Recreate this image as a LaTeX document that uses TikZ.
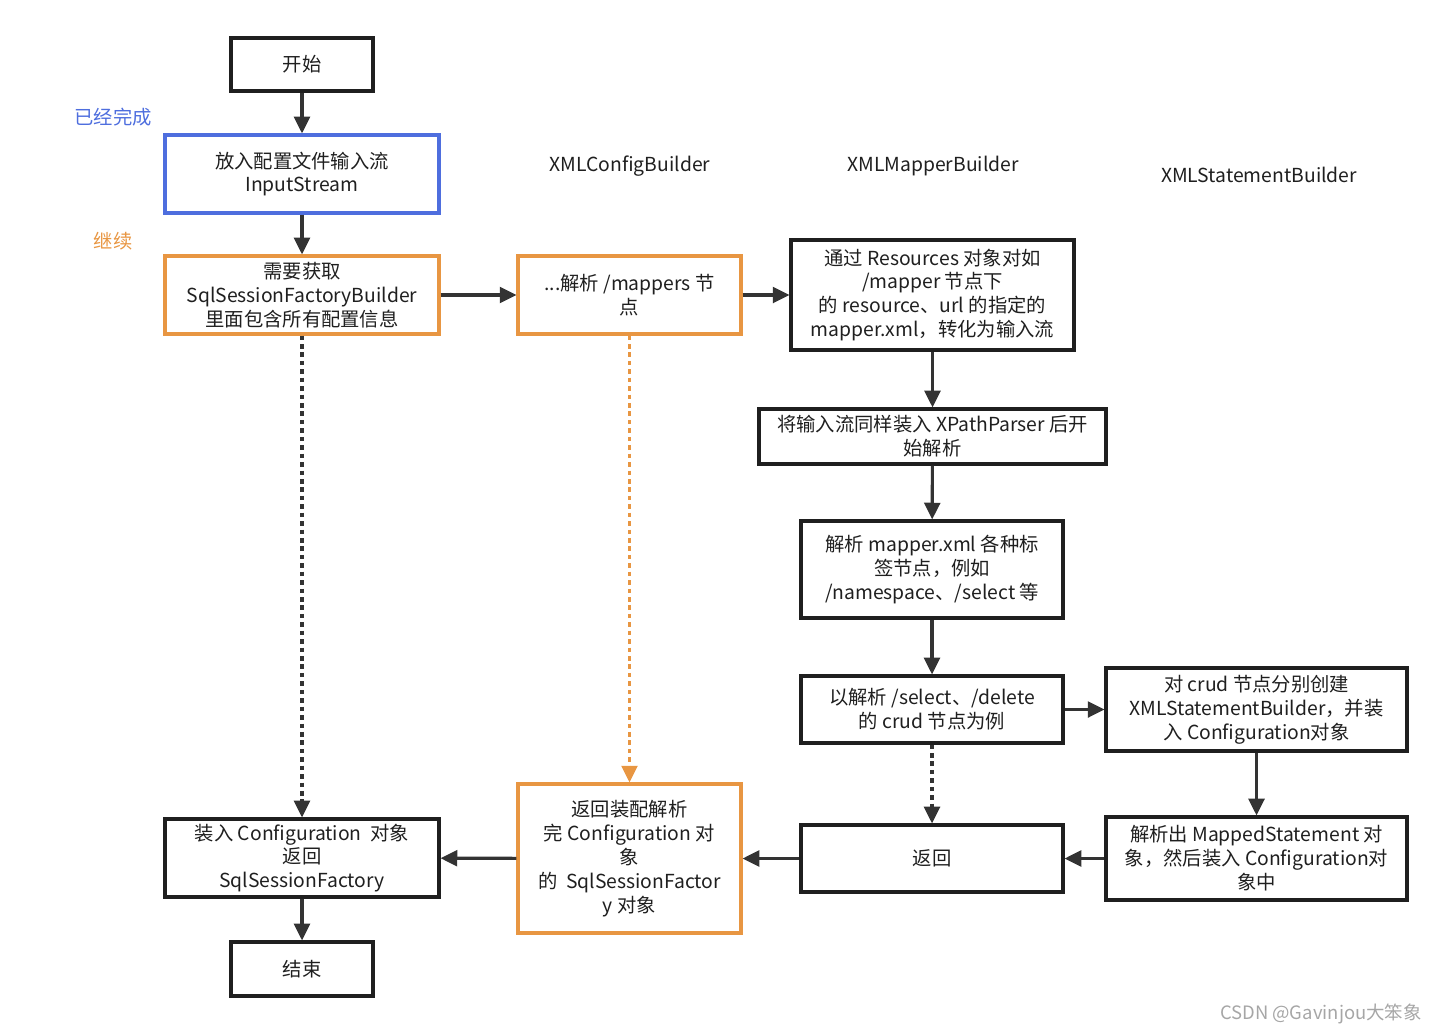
\documentclass[tikz,border=0pt]{standalone}
\usepackage{fontspec}
\setmainfont{Noto Sans CJK SC}
\usetikzlibrary{arrows.meta, positioning}

\definecolor{doneblue}{RGB}{78,110,222}
\definecolor{goorange}{RGB}{232,150,66}
\definecolor{inkgray}{RGB}{51,51,51}

\tikzset{
  box/.style={draw=black!88, line width=1.8pt, align=center, inner sep=2pt,
    text=black!88, font=\fontsize{11}{13.6}\selectfont},
  bluebox/.style={box, draw=doneblue},
  orangebox/.style={box, draw=goorange},
  flow/.style={draw=inkgray, line width=1.8pt, -{Triangle[length=9.5pt, width=9pt]}},
  dots/.style={flow, dash pattern=on 2.6pt off 2.2pt},
  orangedots/.style={dots, draw=goorange, -{Triangle[length=9.5pt, width=9pt, fill=goorange]}},
  lbl/.style={font=\fontsize{11}{13.6}\selectfont, text=black!88},
}

\begin{document}
\begin{tikzpicture}[x=0.02cm, y=-0.02cm]
\useasboundingbox (0,0) rectangle (1443,1034);

% column headings and side notes
\node[lbl, text=doneblue] (done) at (113,117) {已经完成};
\node[lbl, text=goorange] (cont) at (113,241) {继续};
\node[lbl] (hcfg) at (630,166) {XMLConfigBuilder};
\node[lbl] (hmap) at (933,166) {XMLMapperBuilder};
\node[lbl] (hstm) at (1259,175) {XMLStatementBuilder};

% left column
\node[box, minimum width=2.84cm, minimum height=1.06cm] (start) at (302,64.5) {开始};
\node[bluebox, minimum width=5.48cm, minimum height=1.56cm] (input) at (302,174) {放入配置文件输入流\\InputStream};
\node[orangebox, minimum width=5.48cm, minimum height=1.56cm] (sqlb) at (302,295) {需要获取\\SqlSessionFactoryBuilder\\里面包含所有配置信息};
\node[box, minimum width=5.48cm, minimum height=1.56cm] (loadcfg) at (302,858) {装入 Configuration\ \ 对象\\返回\\SqlSessionFactory};
\node[box, minimum width=2.84cm, minimum height=1.08cm] (end) at (302,969) {结束};

% XMLConfigBuilder column
\node[orangebox, minimum width=4.46cm, minimum height=1.56cm] (mappers) at (629.5,295) {...解析 /mappers 节\\点};
\node[orangebox, minimum width=4.46cm, minimum height=2.98cm] (retcfg) at (629.5,858.5) {返回装配解析\\完 Configuration 对\\象\\的\ \ SqlSessionFactor\\y 对象};

% XMLMapperBuilder column
\node[box, minimum width=5.66cm, minimum height=2.2cm] (res) at (932.5,295) {通过 Resources 对象对如\\/mapper 节点下\\的 resource、url 的指定的\\mapper.xml，转化为输入流};
\node[box, minimum width=6.94cm, minimum height=1.1cm] (xpath) at (932.5,436.5) {将输入流同样装入 XPathParser 后开\\始解析};
\node[box, minimum width=5.24cm, minimum height=1.94cm] (parsexml) at (932,569.5) {解析 mapper.xml 各种标\\签节点，例如\\/namespace、/select 等};
\node[box, minimum width=5.24cm, minimum height=1.34cm] (crud) at (932,709.5) {以解析 /select、/delete\\的 crud 节点为例};
\node[box, minimum width=5.24cm, minimum height=1.34cm] (ret) at (932,858.5) {返回};

% XMLStatementBuilder column
\node[box, minimum width=6.02cm, minimum height=1.66cm] (stmt) at (1256.5,709.5) {对 crud 节点分别创建\\XMLStatementBuilder，并装\\入 Configuration对象};
\node[box, minimum width=6.02cm, minimum height=1.66cm] (mapped) at (1256.5,858.5) {解析出 MappedStatement 对\\象，然后装入 Configuration对\\象中};

% connectors
\draw[flow] (start) -- (input);
\draw[flow] (input) -- (sqlb);
\draw[flow] (sqlb) -- (mappers);
\draw[flow] (mappers) -- (res);
\draw[flow] (res) -- (xpath);
\draw[flow] (xpath) -- (parsexml);
\draw[flow] (parsexml) -- (crud);
\draw[flow] (crud) -- (stmt);
\draw[flow] (stmt) -- (mapped);
\draw[flow] (mapped) -- (ret);
\draw[dots] (crud) -- (ret);
\draw[flow] (ret) -- (retcfg);
\draw[flow] (retcfg) -- (loadcfg);
\draw[orangedots] (mappers) -- (retcfg);
\draw[dots] (sqlb) -- (loadcfg);
\draw[flow] (loadcfg) -- (end);

\node[anchor=east, font=\fontsize{10.5}{12}\selectfont, text=black!35] (mark) at (1428,1014) {CSDN @Gavinjou大笨象};
\end{tikzpicture}
\end{document}
